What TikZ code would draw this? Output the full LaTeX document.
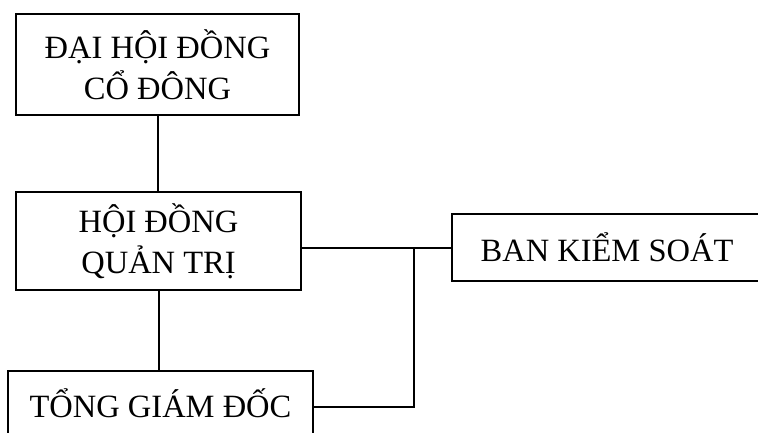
\documentclass[tikz,border=0pt]{standalone}
\usepackage{fontspec}
\setmainfont{Liberation Serif}
\begin{document}
\begin{tikzpicture}[x=1pt,y=-1pt,
  box/.style={draw, line width=2pt, rectangle, inner sep=0pt, align=center,
    font=\fontsize{32.5}{41}\selectfont},
  conn/.style={line width=2pt}]
\useasboundingbox (0,0) rectangle (758,432);
\clip (0,0) rectangle (758,432);
\fill[white] (0,0) rectangle (758,432);
\node[box, minimum width=283pt, minimum height=101pt] (b1) at (157.5,64.5) {ĐẠI HỘI ĐỒNG\\CỔ ĐÔNG};
\node[box, minimum width=285pt, minimum height=98pt] (b2) at (158.5,241) {HỘI ĐỒNG\\QUẢN TRỊ};
\node[box, minimum width=310pt, minimum height=67pt] (b3) at (607,247.5) {BAN KIỂM SOÁT};
\node[box, minimum width=305pt, minimum height=64pt] (b4) at (160.5,403) {TỔNG GIÁM ĐỐC};
\coordinate (j) at (414,247.5);
\draw[conn] (b1.south) -- (b1.south |- b2.north);
\draw[conn] (b2.south) -- (b2.south |- b4.north);
\draw[conn] (b3.west) -- (b3.west -| b2.east);
\draw[conn] (j) |- ([yshift=-4pt]b4.east);
\end{tikzpicture}
\end{document}
